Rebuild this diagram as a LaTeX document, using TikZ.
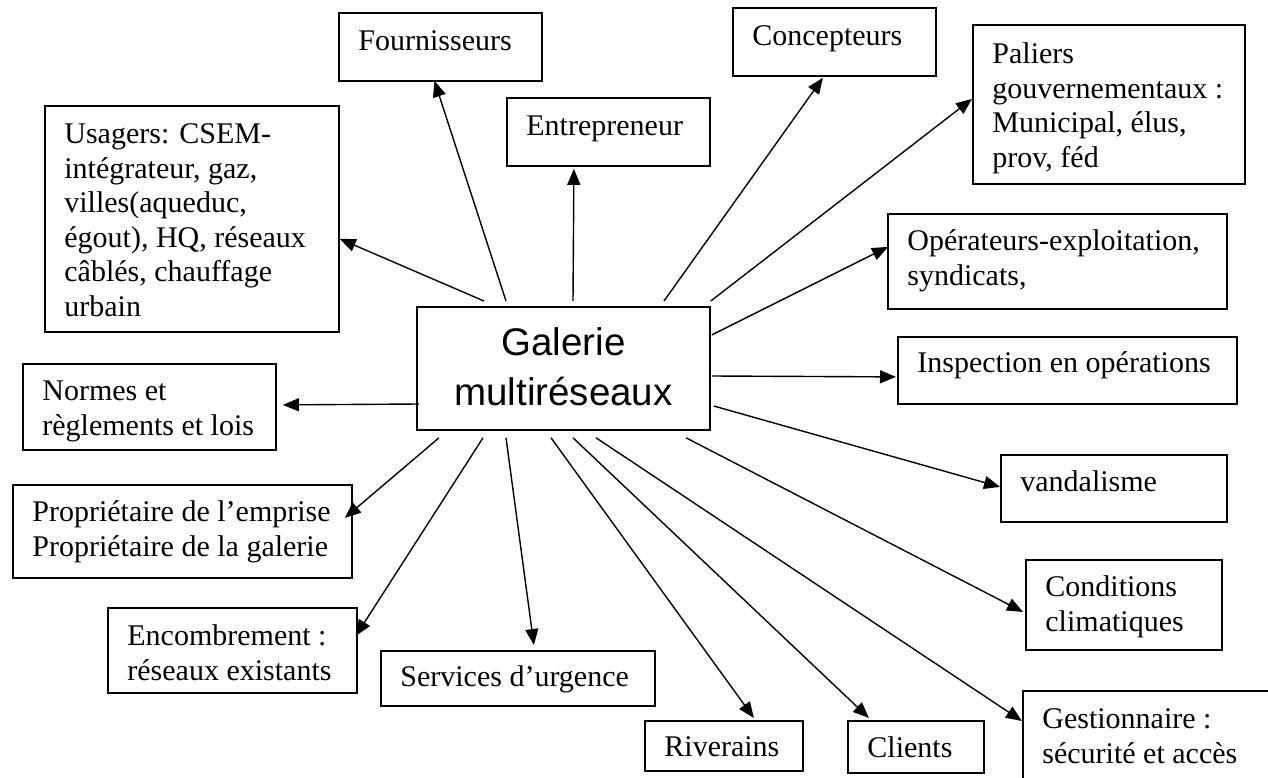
\documentclass[tikz,border=0pt]{standalone}
\usepackage{fontspec}
\setmainfont{Liberation Serif}
\newfontfamily\galfont{Liberation Sans}
\usetikzlibrary{arrows.meta}
\hyphenpenalty=10000
\tikzset{
boite/.style={draw, line width=1.8pt, anchor=north west, align=flush left,
  inner xsep=19.5pt, inner ysep=0pt, font=\fontsize{30}{34.5}\selectfont},
cadre/.style n args={3}{text width=#1pt, text height=#2pt, text depth=#3pt},
fleche/.style={-{Triangle[length=16pt,width=13pt]}, line width=1.4pt}
}

\begin{document}
\begin{tikzpicture}[x=1pt,y=-1pt]
\path[use as bounding box, clip] (0,0) rectangle (1268,778);
\fill[white] (0,0) rectangle (1268,778);

% centre
\node[boite, align=center, inner xsep=10pt, font=\galfont\fontsize{38.5}{50}\selectfont,
  cadre={273}{49}{74}] (gal) at (416,306) {Galerie\\multiréseaux};

% boites du haut
\node[boite, cadre={164}{38}{30}] (four) at (338,12) {Fournisseurs};
\node[boite, cadre={164}{38}{30}] (conc) at (732,7) {Concepteurs};
\node[boite, cadre={164}{38}{30}] (entr) at (506,97) {Entrepreneur};
\node[boite, cadre={233}{39}{120}] (pal) at (972,24)
  {Paliers\\gouvernementaux~:\\Municipal, élus,\\prov, féd};
\node[boite, cadre={255}{38}{188}] (usa) at (44,105)
  {Usagers: CSEM-\\intégrateur, gaz,\\villes(aqueduc,\\égout),~HQ,~réseaux\\câblés, chauffage\\urbain};

% boites de droite
\node[boite, cadre={300}{37}{58}] (oper) at (887,213) {Opérateurs-exploitation,\\syndicats,};
\node[boite, cadre={300}{36}{31}] (insp) at (897,336) {Inspection~en~opérations};
\node[boite, cadre={187}{37}{30}] (vand) at (1000,454) {vandalisme};
\node[boite, cadre={157}{37}{53}] (cond) at (1025,559) {Conditions\\climatiques};
\node[boite, cadre={261}{38}{82}] (gest) at (1022,690) {Gestionnaire~:\\sécurité et accès};

% boites de gauche et du bas
\node[boite, cadre={214}{37}{49}] (norm) at (22,363) {Normes~et\\règlements~et~lois};
\node[boite, cadre={300}{37}{56}] (prop) at (12,484)
  {Propriétaire~de~l’emprise\\Propriétaire~de~la~galerie};
\node[boite, cadre={210}{38}{47}] (enc) at (107,607) {Encombrement~:\\réseaux~existants};
\node[boite, cadre={235}{36}{19}] (serv) at (380,650) {Services~d’urgence};
\node[boite, cadre={119}{36}{14}] (riv) at (644,720) {Riverains};
\node[boite, cadre={97}{37}{15}] (cli) at (847,720) {Clients};

% fleches
\draw[fleche] ([xshift=68pt,yshift=5pt]gal.north west) -- ([yshift=-20pt]usa.east);
\draw[fleche] ([xshift=90pt,yshift=5pt]gal.north west) -- ([xshift=-6pt,yshift=1pt]four.south);
\draw[fleche] ([xshift=157pt,yshift=5pt]gal.north west) -- ([xshift=-34.5pt,yshift=-2pt]entr.south);
\draw[fleche] ([xshift=248pt,yshift=5pt]gal.north west) -- ([xshift=-11.5pt,yshift=-1pt]conc.south);
\draw[fleche] ([yshift=5pt]gal.north east) -- ([yshift=5.5pt]pal.west);
\draw[fleche] ([xshift=1pt,yshift=-29pt]gal.north east) -- ([xshift=1pt,yshift=14.5pt]oper.west);
\draw[fleche] ([xshift=1pt,yshift=-70pt]gal.north east) -- ([xshift=-1pt,yshift=-6.5pt]insp.west);
\draw[fleche] ([xshift=3pt,yshift=-100pt]gal.north east) -- ([yshift=1.5pt]vand.west);
\draw[fleche] ([xshift=3pt,yshift=-98pt]gal.north west) -- ([xshift=6pt,yshift=2pt]norm.east);
\draw[fleche] ([xshift=23pt,yshift=-7pt]gal.south west) -- ([xshift=-8pt,yshift=13.5pt]prop.east);
\draw[fleche] ([xshift=67pt,yshift=-7pt]gal.south west) -- ([xshift=-2pt,yshift=14.5pt]enc.east);
\draw[fleche] ([xshift=90pt,yshift=-7pt]gal.south west) -- ([xshift=16pt,yshift=5pt]serv.north);
\draw[fleche] ([xshift=135pt,yshift=-7pt]gal.south west) -- ([xshift=30pt,yshift=2pt]riv.north);
\draw[fleche] ([xshift=157pt,yshift=-7pt]gal.south west) -- ([xshift=-47pt,yshift=2pt]cli.north);
\draw[fleche] ([xshift=180pt,yshift=-7pt]gal.south west) -- ([yshift=-31pt]gest.north west);
\draw[fleche] ([xshift=270pt,yshift=-7pt]gal.south west) -- ([xshift=-2pt,yshift=-7pt]cond.west);

\end{tikzpicture}
\end{document}
